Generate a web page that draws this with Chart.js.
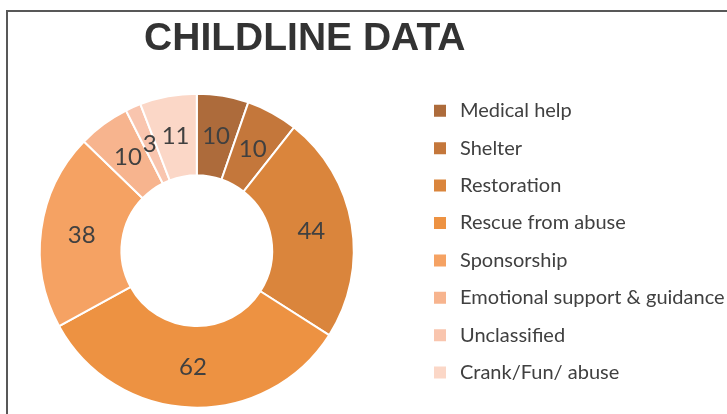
<!DOCTYPE html>
<html><head><meta charset="utf-8">
<script src="https://cdn.jsdelivr.net/npm/chart.js@4.4.1/dist/chart.umd.min.js"></script>
<style>
html,body{margin:0;padding:0;background:#fff;overflow:hidden;width:727px;height:414px;}
#frame{position:absolute;left:6px;top:10px;width:760px;height:450px;border-left:2px solid #585858;border-top:2px solid #585858;}
#wrap{position:absolute;left:-19px;top:0;width:746px;height:414px;}
</style></head><body>
<div id="frame"></div>
<div id="wrap"><canvas id="c" width="746" height="414"></canvas></div>
<script>
const chartTitle = 'CHILDLINE DATA';
const categories = ['Medical help','Shelter','Restoration','Rescue from abuse','Sponsorship','Emotional support & guidance','Unclassified','Crank/Fun/ abuse'];
const values = [10, 10, 44, 62, 38, 10, 3, 11];
const colors = ['#AD6B3B','#C4773B','#DA853C','#ED9242','#F5A263','#F7B48E','#F9C5AE','#FBD7C7'];

const valueLabels = {
  id: 'valueLabels',
  afterDatasetsDraw(chart) {
    const ctx = chart.ctx;
    const meta = chart.getDatasetMeta(0);
    const data = chart.data.datasets[0].data;
    ctx.save();
    ctx.font = '24px Lato, "Open Sans", sans-serif';
    ctx.fillStyle = '#404040';
    ctx.textAlign = 'center';
    ctx.textBaseline = 'middle';
    meta.data.forEach((arc, i) => {
      const p = arc.tooltipPosition();
      ctx.fillText(String(data[i]), p.x, p.y);
    });
    ctx.restore();
  }
};

// let the legend text run past the narrow layout box instead of being clipped
const legendClip = {
  id: 'legendClip',
  beforeDraw(chart) {
    const lg = chart.legend;
    if (lg) { lg.right = chart.width; lg.width = lg.right - lg.left; }
  }
};

new Chart(document.getElementById('c'), {
  type: 'doughnut',
  data: {
    labels: categories,
    datasets: [{
      data: values,
      backgroundColor: colors,
      borderColor: '#ffffff',
      borderWidth: 2,
      hoverOffset: 0,
      radius: 157
    }]
  },
  options: {
    responsive: false,
    animation: false,
    events: [],
    cutout: '48%',
    layout: { padding: { left: 0, top: 0, right: 98.4, bottom: 14 } },
    plugins: {
      title: {
        display: true,
        text: chartTitle,
        color: '#333333',
        font: { family: '"Liberation Sans", Arial, sans-serif', size: 39, weight: 'bold', lineHeight: 1.2 },
        padding: { top: 15.8, bottom: 38.8 }
      },
      legend: {
        position: 'right',
        align: 'end',
        maxWidth: 216,
        labels: {
          usePointStyle: true,
          pointStyle: 'rect',
          boxWidth: 20,
          boxHeight: 12,
          padding: 17.4,
          color: '#404040',
          font: { family: 'Lato, "Open Sans", sans-serif', size: 20 },
          generateLabels(chart) {
            const items = Chart.overrides.doughnut.plugins.legend.labels.generateLabels(chart);
            items.forEach(it => { it.lineWidth = 0; });
            return items;
          }
        }
      },
      tooltip: { enabled: false }
    }
  },
  plugins: [valueLabels, legendClip]
});
</script>
</body></html>
